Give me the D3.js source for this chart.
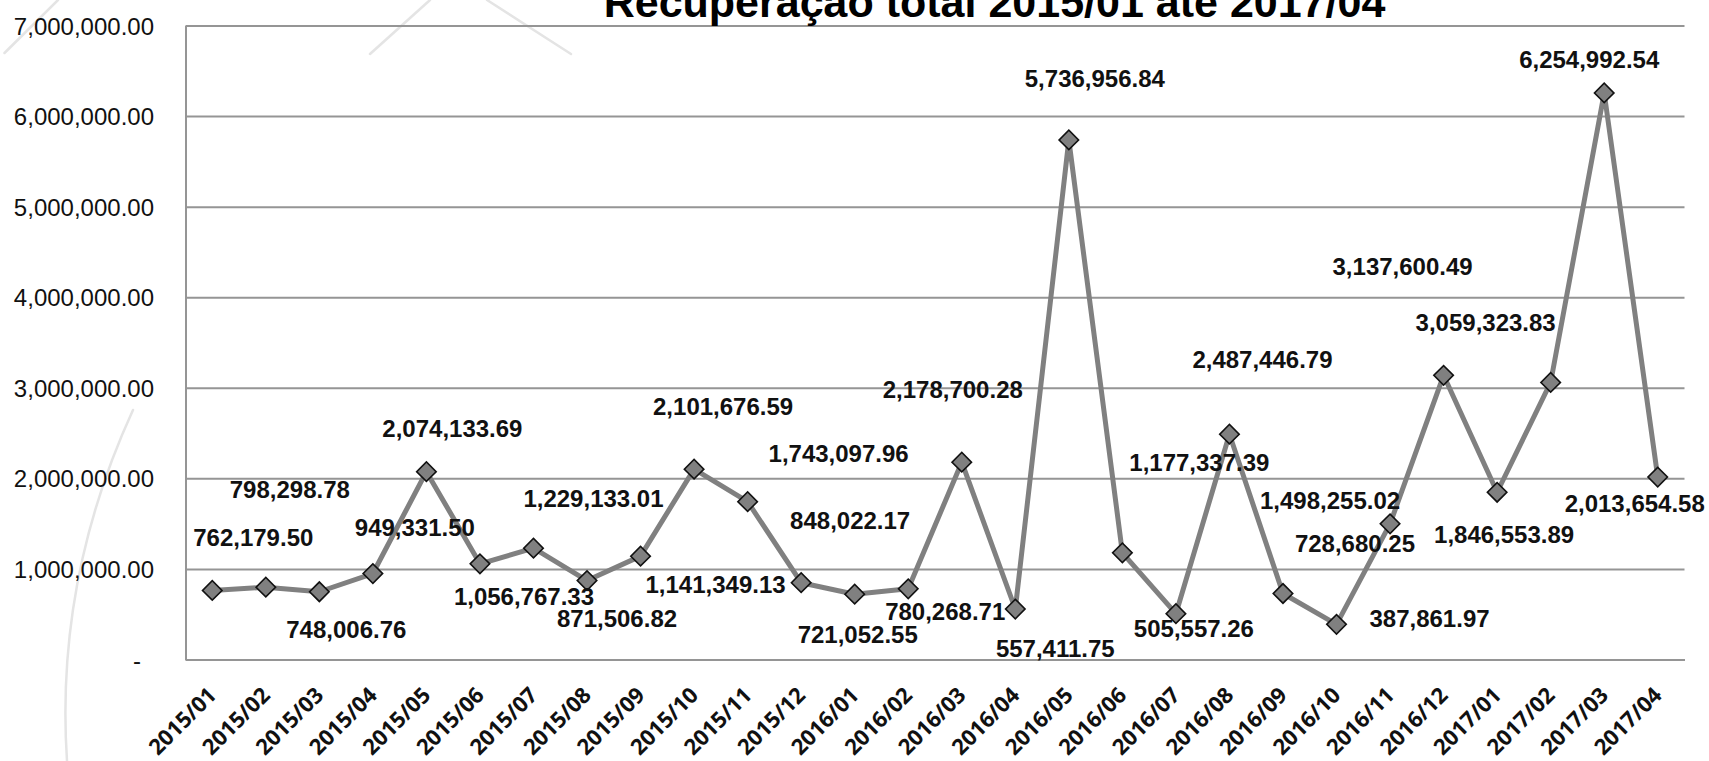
<!DOCTYPE html>
<html><head><meta charset="utf-8">
<script src="https://cdn.jsdelivr.net/npm/d3@7"></script>
<style>
body{margin:0;background:#fff}
svg{display:block}
</style>
</head><body>
<svg id="chart" width="1709" height="761"></svg>
<script>
// ---- data ----
const title = "Recuperação total 2015/01 até 2017/04";
const categories = ["2015/01","2015/02","2015/03","2015/04","2015/05","2015/06","2015/07","2015/08","2015/09","2015/10","2015/11","2015/12",
  "2016/01","2016/02","2016/03","2016/04","2016/05","2016/06","2016/07","2016/08","2016/09","2016/10","2016/11","2016/12",
  "2017/01","2017/02","2017/03","2017/04"];
const values = [762179.50, 798298.78, 748006.76, 949331.50, 2074133.69, 1056767.33, 1229133.01, 871506.82, 1141349.13, 2101676.59,
  1743097.96, 848022.17, 721052.55, 780268.71, 2178700.28, 557411.75, 5736956.84, 1177337.39, 505557.26, 2487446.79,
  728680.25, 387861.97, 1498255.02, 3137600.49, 1846553.89, 3059323.83, 6254992.54, 2013654.58];
const yTicks = [0, 1000000, 2000000, 3000000, 4000000, 5000000, 6000000, 7000000];

// ---- layout (label offsets relative to their point, in px) ----
const labelDx = [41, 24, 27, 42, 26, 44, 60, 30, 75, 29, 91, 49, 3, 37, -9, 40, 26, 77, 18, 33, 72, 93, -60, -41, 7, -65, -15, -23];
const labelDy = [-44, -89, 46, -38, -35, 41, -41, 46, 37, -54, -40, -54, 49, 31, -64, 48, -53, -82, 23, -66, -42, 3, -15, -100, 51, -51, -25, 35];

const svg = d3.select("#chart");
const M = {left: 185.5, right: 1684.5, top: 25.5, bottom: 659.5};

// background decoration (template watermark strokes)
const deco = svg.append("g").attr("fill", "none").attr("stroke", "#e4e4e4").attr("stroke-width", 2.5).attr("stroke-linecap", "round");
deco.append("path").attr("d", "M4.5,53 L58,0");
deco.append("path").attr("d", "M370,54 L430,0");
deco.append("path").attr("d", "M487,0 L571,54");
deco.append("path").attr("d", "M133,410 Q55,580 67,761");

const x = d3.scalePoint().domain(categories).range([M.left, M.right]).padding(0.5);
const y = d3.scaleLinear().domain([0, 7000000]).range([M.bottom, M.top]);
const fmt = d3.format(",.2f");

// y axis with gridlines
const yAxis = svg.append("g").attr("transform", `translate(${M.left},0)`)
  .call(d3.axisLeft(y).tickValues(yTicks).tickSizeInner(-(M.right - M.left)).tickSizeOuter(0).tickPadding(31.5)
    .tickFormat(d => d === 0 ? "-" : fmt(d)));
yAxis.select(".domain").attr("stroke", "#959595").attr("stroke-width", 2);
yAxis.selectAll(".tick line").attr("stroke", "#959595").attr("stroke-width", 2);
yAxis.selectAll(".tick text")
  .attr("font-family", "'Liberation Sans', Arial, sans-serif")
  .attr("font-size", 24).attr("fill", "#111")
  .attr("dy", "0.36em")
  .attr("dx", d => d === 0 ? -13 : 0);

// x axis
const xAxis = svg.append("g").attr("transform", `translate(0,${M.bottom})`)
  .call(d3.axisBottom(x).tickSize(0).tickSizeOuter(0));
xAxis.select(".domain").attr("stroke", "#959595").attr("stroke-width", 2);
xAxis.selectAll(".tick text")
  .attr("font-family", "'Open Sans', sans-serif")
  .attr("font-weight", "bold").attr("font-size", 22).attr("fill", "#111")
  .attr("x", 0).attr("y", 0).attr("dy", 0)
  .attr("text-anchor", "end")
  .attr("transform", "translate(5,37) rotate(-45)");

// line
const line = d3.line().x((d, i) => x(categories[i])).y(d => y(d));
svg.append("path").datum(values)
  .attr("fill", "none").attr("stroke", "#808080").attr("stroke-width", 5)
  .attr("stroke-linejoin", "round").attr("d", line);

// markers
const sym = d3.symbol().type(d3.symbolSquare).size(190);
svg.append("g").selectAll("path").data(values).join("path")
  .attr("d", sym)
  .attr("transform", (d, i) => `translate(${x(categories[i])},${y(d)}) rotate(45)`)
  .attr("fill", "#808080").attr("stroke", "#111").attr("stroke-width", 1.6);

// data labels
svg.append("g").selectAll("text").data(values).join("text")
  .attr("x", (d, i) => x(categories[i]) + labelDx[i])
  .attr("y", (d, i) => y(d) + labelDy[i])
  .attr("text-anchor", "middle")
  .attr("font-family", "'Liberation Sans', Arial, sans-serif")
  .attr("font-weight", "bold").attr("font-size", 24).attr("fill", "#111")
  .text(d => fmt(d));

// title
svg.append("text").attr("x", 994.5).attr("y", 17).attr("text-anchor", "middle")
  .attr("font-family", "'Liberation Sans', Arial, sans-serif")
  .attr("font-weight", "bold").attr("font-size", 43).attr("fill", "#000")
  .text(title);
</script>
</body></html>
